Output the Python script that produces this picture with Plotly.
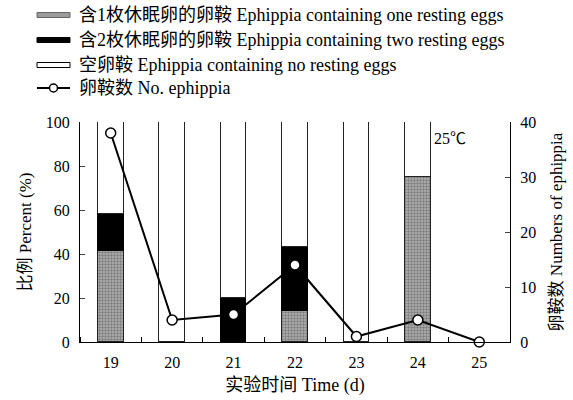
import plotly.graph_objects as go

days = [19, 20, 21, 22, 23, 24, 25]
one_egg = [41.5, None, None, 14, None, 75, None]
two_eggs = [16.5, None, 20, 29, None, None, None]
no_eggs = [42, 100, 80, 57, 100, 25, None]
n_ephippia = [38, 4, 5, 14, 1, 4, 0]

names = [
    "含1枚休眠卵的卵鞍 Ephippia containing one resting eggs",
    "含2枚休眠卵的卵鞍 Ephippia containing two resting eggs",
    "空卵鞍 Ephippia containing no resting eggs",
    "卵鞍数 No. ephippia",
]

FONT = "Liberation Serif, Noto Sans CJK SC"
W = 0.42
PAT = dict(shape=".", fgcolor="#444", bgcolor="#b4b4b4", size=3, solidity=0.5)

fig = go.Figure()
fig.add_trace(go.Bar(
    x=days, y=one_egg, name=names[0], width=W,
    marker=dict(color="#aaaaaa", line=dict(color="#222", width=1), pattern=PAT),
))
fig.add_trace(go.Bar(
    x=days, y=two_eggs, name=names[1], width=W,
    marker=dict(color="black", line=dict(color="black", width=1)),
))
fig.add_trace(go.Bar(
    x=days, y=no_eggs, name=names[2], width=W,
    marker=dict(color="white", line=dict(color="#222", width=1)),
))
fig.add_trace(go.Scatter(
    x=days, y=n_ephippia, name=names[3], yaxis="y2", mode="lines+markers",
    line=dict(color="black", width=2),
    marker=dict(symbol="circle", size=10, color="white", line=dict(color="black", width=1.5)),
    cliponaxis=False,
))

# custom legend (paper coordinates derived from plot area 80..510 x 122..342 px)
L, R, T, B = 80, 510, 122, 342
def px(xp):
    return (xp - L) / (R - L)
def py(yp):
    return (B - yp) / (B - T)

rows = [15, 40, 65, 88]
sw_x0, sw_x1 = 37, 70
swatches = [
    dict(fillcolor="#9a9a9a", line=dict(color="#666", width=1)),
    dict(fillcolor="black", line=dict(color="black", width=1)),
    dict(fillcolor="white", line=dict(color="black", width=1)),
]
for i in range(3):
    s = swatches[i]
    fig.add_shape(type="rect", xref="paper", yref="paper",
                  x0=px(sw_x0), x1=px(sw_x1), y0=py(rows[i] + 2.5), y1=py(rows[i] - 2.5),
                  fillcolor=s["fillcolor"], line=s["line"], layer="above")
fig.add_shape(type="line", xref="paper", yref="paper",
              x0=px(sw_x0), x1=px(sw_x1), y0=py(rows[3]), y1=py(rows[3]),
              line=dict(color="black", width=2))
fig.add_shape(type="circle", xref="paper", yref="paper",
              xsizemode="pixel", ysizemode="pixel",
              xanchor=px((sw_x0 + sw_x1) / 2), yanchor=py(rows[3]),
              x0=-4, x1=4, y0=-4, y1=4,
              fillcolor="white", line=dict(color="black", width=1.5))
for i, nm in enumerate(names):
    fig.add_annotation(text=nm, x=px(77), y=py(rows[i]), xref="paper", yref="paper",
                       xanchor="left", yanchor="middle", showarrow=False,
                       font=dict(size=18, family=FONT, color="black"))

fig.add_annotation(text="25℃", x=px(468), y=py(128), xref="paper", yref="paper",
                   showarrow=False, font=dict(size=16, family=FONT, color="black"))

TF = dict(size=16, family=FONT, color="black")
fig.update_layout(
    width=573, height=400,
    margin=dict(l=L, r=573 - R, t=T, b=400 - B),
    paper_bgcolor="white", plot_bgcolor="white",
    font=dict(family=FONT, size=16, color="black"),
    barmode="stack", bargap=0,
    showlegend=False,
    xaxis=dict(
        range=[18.5, 25.5], tickvals=days, ticktext=[str(d) for d in days],
        ticks="", showline=True, linecolor="black", linewidth=1, automargin=False,
        showgrid=False, zeroline=False, ticklabelstandoff=6,
        minor=dict(tick0=18.5, dtick=1, ticks="inside", ticklen=5, tickcolor="black", tickwidth=1),
        title=dict(text="实验时间 Time (d)", standoff=8, font=dict(size=18, family=FONT)),
        tickfont=TF,
    ),
    yaxis=dict(
        range=[0, 100], tickvals=[0, 20, 40, 60, 80, 100], ticks="inside", ticklen=5,
        showline=True, linecolor="black", linewidth=1, showgrid=False, zeroline=False,
        ticklabelstandoff=6, automargin=False,
        title=dict(text="比例 Percent (%)", standoff=9, font=dict(size=17, family=FONT)),
        tickfont=TF,
    ),
    yaxis2=dict(
        range=[0, 40], tickvals=[0, 10, 20, 30, 40], ticks="inside", ticklen=5,
        overlaying="y", side="right", ticklabelstandoff=6, automargin=False,
        showline=True, linecolor="black", linewidth=1, showgrid=False, zeroline=False,
        title=dict(text="卵鞍数 Numbers of ephippia", standoff=14, font=dict(size=17, family=FONT)),
        tickfont=TF,
    ),
)

fig.write_html("out.html")
